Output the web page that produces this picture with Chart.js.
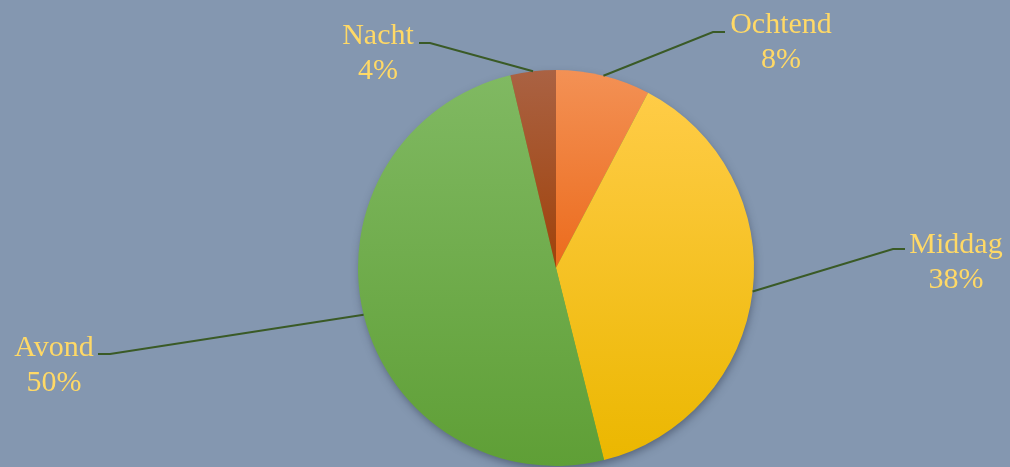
<!DOCTYPE html>
<html>
<head>
<meta charset="utf-8">
<script src="https://cdn.jsdelivr.net/npm/chart.js@4.4.1/dist/chart.umd.min.js"></script>
<style>
  html, body { margin: 0; padding: 0; background: #8497B0; }
  #wrap { width: 1010px; height: 467px; position: relative; }
</style>
</head>
<body>
<div id="wrap"><canvas id="c" width="1010" height="467"></canvas></div>
<script>
// ---- data ----
const categories = ['Ochtend', 'Middag', 'Avond', 'Nacht'];
const shares = [7.7, 38.4, 50.2, 3.7];

// ---- styles ----
const topColors = ['#F39155', '#FFCC47', '#80B962', '#AA6243'];
const bottomColors = ['#EC6B1C', '#EBB700', '#5F9F36', '#A0420A'];
const labelAnchors = [ // label centre x, first baseline y, elbow x, elbow y, line end x
  [781, 33, 713, 32, 725],
  [956, 253, 893, 249, 905],
  [54, 356, 110, 354, 98],
  [378, 44, 430, 43, 419]
];

function pieGeom(chart) {
  const a = chart.chartArea;
  return { cx: (a.left + a.right) / 2, cy: (a.top + a.bottom) / 2, r: Math.min(a.right - a.left, a.bottom - a.top) / 2 };
}

function sliceAngles(i) {
  const total = shares.reduce((s, v) => s + v, 0);
  let start = 0;
  for (let k = 0; k < i; k++) start += shares[k];
  return [start / total * 2 * Math.PI, (start + shares[i]) / total * 2 * Math.PI];
}

function sliceFill(ctx) {
  const chart = ctx.chart;
  const i = ctx.dataIndex;
  if (!chart.chartArea || i === undefined) return topColors[i || 0];
  const g = pieGeom(chart);
  const [a0, a1] = sliceAngles(i);
  let minY = g.cy, maxY = g.cy;
  for (let s = 0; s <= 200; s++) {
    const a = a0 + (a1 - a0) * s / 200;
    const y = g.cy - g.r * Math.cos(a);
    minY = Math.min(minY, y); maxY = Math.max(maxY, y);
  }
  const grad = chart.ctx.createLinearGradient(0, minY, 0, maxY);
  grad.addColorStop(0, topColors[i]);
  grad.addColorStop(1, bottomColors[i]);
  return grad;
}

const shadowPlugin = {
  id: 'shadow',
  beforeDatasetsDraw(chart) {
    const g = pieGeom(chart);
    const c = chart.ctx;
    c.save();
    c.shadowColor = 'rgba(40,50,70,0.5)';
    c.shadowBlur = 8;
    c.shadowOffsetY = 4;
    c.shadowOffsetX = 1;
    c.beginPath();
    c.arc(g.cx, g.cy, g.r - 1, 0, Math.PI * 2);
    c.fillStyle = '#6aa23e';
    c.fill();
    c.restore();
  }
};

const labelPlugin = {
  id: 'leaderLabels',
  afterDatasetsDraw(chart) {
    const c = chart.ctx;
    const meta = chart.getDatasetMeta(0);
    const total = shares.reduce((s, v) => s + v, 0);
    meta.data.forEach((arc, i) => {
      const p = arc.getProps(['x', 'y', 'startAngle', 'endAngle', 'outerRadius'], true);
      const mid = (p.startAngle + p.endAngle) / 2;
      const sx = p.x + Math.cos(mid) * p.outerRadius;
      const sy = p.y + Math.sin(mid) * p.outerRadius;
      const [tx, ty, ex, ey, lx] = labelAnchors[i];
      c.save();
      c.strokeStyle = '#3A5A26';
      c.lineWidth = 2;
      c.beginPath();
      c.moveTo(sx, sy);
      c.lineTo(ex, ey);
      c.lineTo(lx, ey);
      c.stroke();
      c.fillStyle = '#FFD966';
      c.font = '30px "Liberation Serif"';
      c.textAlign = 'center';
      c.textBaseline = 'alphabetic';
      c.fillText(categories[i], tx, ty);
      c.fillText(Math.round(shares[i] / total * 100) + '%', tx, ty + 35);
      c.restore();
    });
  }
};

new Chart(document.getElementById('c'), {
  type: 'pie',
  data: {
    labels: categories,
    datasets: [{
      data: shares,
      backgroundColor: sliceFill,
      borderWidth: 0
    }]
  },
  options: {
    responsive: false,
    animation: false,
    layout: { padding: { left: 358, right: 256, top: 70, bottom: 1 } },
    plugins: { legend: { display: false }, tooltip: { enabled: false } }
  },
  plugins: [shadowPlugin, labelPlugin]
});
</script>
</body>
</html>
